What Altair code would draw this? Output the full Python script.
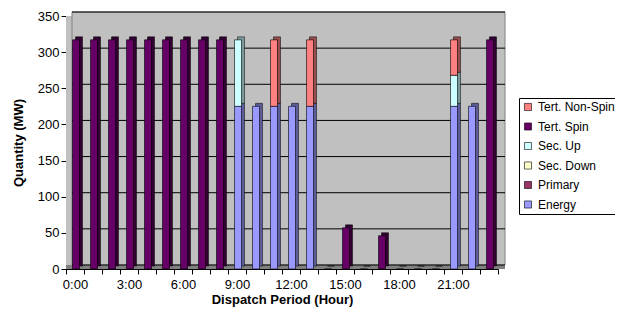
import altair as alt
import pandas as pd

hours = [f"{h}:00" for h in range(24)]
shown_labels = ["0:00", "3:00", "6:00", "9:00", "12:00", "15:00", "18:00", "21:00"]

series_names = ["Energy", "Primary", "Sec. Down", "Sec. Up", "Tert. Spin", "Tert. Non-Spin"]
energy =         [0, 0, 0, 0, 0, 0, 0, 0, 0, 225, 225, 225, 225, 225, 0, 0, 0, 0, 0, 0, 0, 225, 225, 0]
primary =        [0] * 24
sec_down =       [0] * 24
sec_up =         [0, 0, 0, 0, 0, 0, 0, 0, 0, 92, 0, 0, 0, 0, 0, 0, 0, 0, 0, 0, 0, 43, 0, 0]
tert_spin =      [317, 317, 317, 317, 317, 317, 317, 317, 317, 0, 0, 0, 0, 0, 0, 57, 0, 46, 0, 0, 0, 0, 0, 317]
tert_non_spin =  [0, 0, 0, 0, 0, 0, 0, 0, 0, 0, 0, 92, 0, 92, 0, 0, 0, 0, 0, 0, 0, 49, 0, 0]

front_colors = ["#9999FF", "#993366", "#FFFFCC", "#CCFFFF", "#660066", "#FF8080"]
side_colors = ["#5C5C99", "#5C1F3D", "#99997A", "#7A9999", "#330033", "#994D4D"]
legend_order = ["Tert. Non-Spin", "Tert. Spin", "Sec. Up", "Sec. Down", "Primary", "Energy"]
grid_values = [0, 50, 100, 150, 200, 250, 300, 350]

W, H = 432, 253
FONT = "Arial, Liberation Sans, sans-serif"

rows = []
for rank, (name, vals) in enumerate(zip(series_names,
                                        [energy, primary, sec_down, sec_up, tert_spin, tert_non_spin])):
    for h, v in zip(hours, vals):
        rows.append({"hour": h, "series": name, "value": v, "rank": rank})
df = pd.DataFrame(rows)
tot = df.groupby("hour")["value"].transform("sum")
df = df[(df["value"] > 0) | ((tot == 0) & (df["series"] == "Tert. Spin"))]

grid_df = pd.DataFrame({"g": grid_values})
one = pd.DataFrame({"a": [0]})

x_enc = alt.X("hour:N", sort=hours, scale=alt.Scale(domain=hours, paddingInner=0, paddingOuter=0),
              title="Dispatch Period (Hour)",
              axis=alt.Axis(labelAngle=0, tickBand="extent", tickSize=5, labelPadding=4,
                            titlePadding=2, domainColor="black", tickColor="black",
                            labelExpr="indexof(" + str(shown_labels) + ", datum.value) >= 0 ? datum.value : ''"))
y_scale = alt.Scale(domain=[0, 350], nice=False)
y_axis = alt.Axis(values=grid_values, tickSize=5, labelPadding=2, titlePadding=12,
                  domainColor="black", tickColor="black", grid=False, labelOverlap=False)

wall = alt.Chart(one).mark_rect(fill="#C0C0C0", stroke="#808080", strokeWidth=1).encode(
    x=alt.value(6), x2=alt.value(W + 7), y=alt.value(-4), y2=alt.value(H - 4))
side = alt.Chart(one).mark_rect(fill="#C0C0C0").encode(
    x=alt.value(0), x2=alt.value(7), y=alt.value(0), y2=alt.value(H))
floor = alt.Chart(one).mark_rect(fill="#808080").encode(
    x=alt.value(0), x2=alt.value(W + 7), y=alt.value(H - 4), y2=alt.value(H))

grid = alt.Chart(grid_df).mark_rule(color="black", strokeWidth=1, yOffset=-4).encode(
    y=alt.Y("g:Q", scale=y_scale, title="Quantity (MW)", axis=y_axis),
    x=alt.value(6), x2=alt.value(W + 7))

base = alt.Chart(df)
shadow = base.mark_bar(size=7, xOffset=4, yOffset=-3, stroke="black", strokeWidth=0.5).encode(
    x=x_enc,
    y=alt.Y("value:Q", stack="zero", scale=y_scale, title="Quantity (MW)", axis=y_axis),
    color=alt.Color("series:N", scale=alt.Scale(domain=series_names, range=side_colors), legend=None),
    order=alt.Order("rank:Q", sort="ascending"))
front = base.mark_bar(size=7, xOffset=1, stroke="black", strokeWidth=0.6).encode(
    x=x_enc,
    y=alt.Y("value:Q", stack="zero", scale=y_scale, title="Quantity (MW)", axis=y_axis),
    color=alt.Color("series:N",
                    scale=alt.Scale(domain=legend_order,
                                    range=[front_colors[series_names.index(s)] for s in legend_order]),
                    title=None,
                    legend=alt.Legend(orient="none", legendX=453, legendY=82, symbolType="square",
                                      symbolSize=50, symbolStrokeColor="black", symbolStrokeWidth=0.6,
                                      labelFontSize=12, labelFont=FONT, labelLimit=200,
                                      rowPadding=7.5, padding=3, strokeColor="black", fillColor="white",
                                      labelOffset=4)),
    order=alt.Order("rank:Q", sort="ascending"))

chart = alt.layer(side, wall, floor, grid, shadow, front).resolve_scale(color="independent").properties(
    width=W, height=H,
    autosize=alt.AutoSizeParams(type="none"),
    padding={"left": 58, "top": 8, "right": 117, "bottom": 39},
    background="white",
).configure_view(stroke=None).configure_axis(
    labelFont=FONT, labelFontSize=13, labelColor="black",
    titleFont=FONT, titleFontSize=13, titleFontWeight="bold", titleColor="black",
)

chart.save("out.html", embed_options={"renderer": "svg", "actions": False})
